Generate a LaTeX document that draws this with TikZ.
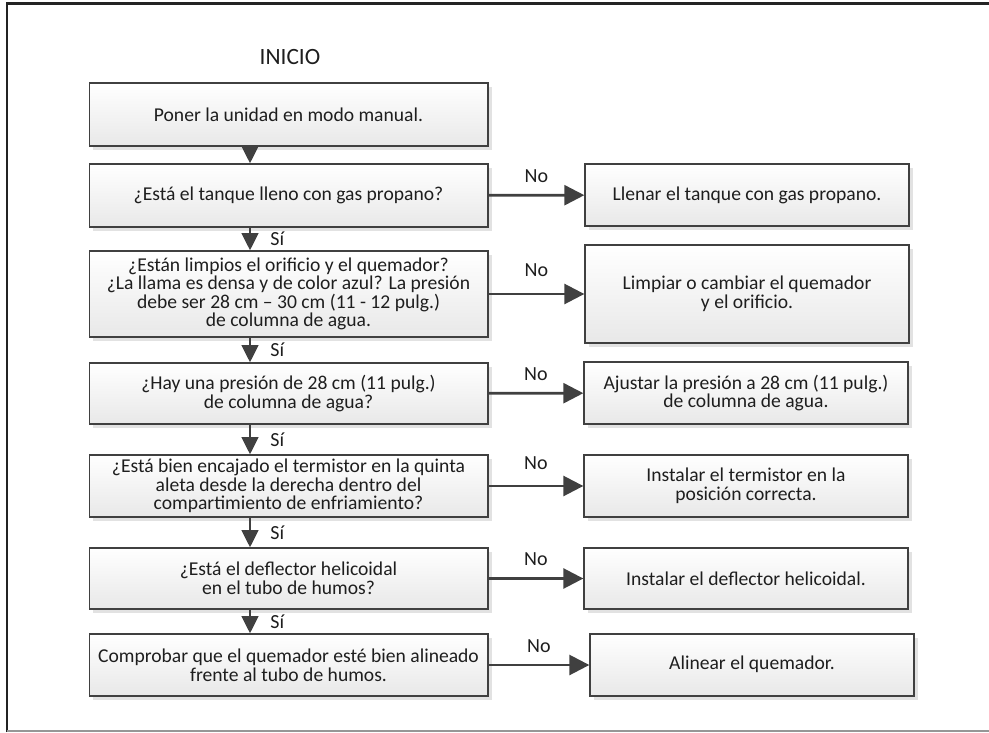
\documentclass[tikz,border=0pt]{standalone}
\usepackage{fontspec}
\setmainfont{Carlito}
\usepackage{tikz}
\usetikzlibrary{arrows.meta,positioning,shadows}
\definecolor{flowline}{RGB}{64,64,64}
\definecolor{flowtext}{RGB}{30,30,30}
\definecolor{framedark}{RGB}{35,35,35}
\definecolor{framegray}{RGB}{150,150,150}
\definecolor{shadowgray}{RGB}{226,226,226}

\begin{document}
\begin{tikzpicture}[
  x=0.75pt, y=-0.75pt,
  every node/.style={font=\fontsize{14.7}{13.9}\selectfont, text=flowtext},
  box/.style={draw=flowline, line width=1pt, top color=white, bottom color=black!9,
    drop shadow={shadow xshift=3pt, shadow yshift=-3pt, fill=shadowgray, opacity=1},
    minimum width=299pt, minimum height=46.5pt, inner sep=0pt, align=center},
  sidebox/.style={box, minimum width=243pt},
  arrow/.style={-{Triangle[length=15pt, width=15pt]}, line width=2pt, draw=flowline},
  downarrow/.style={-{Triangle[length=13pt, width=12.5pt]}, line width=2pt, draw=flowline},
  answer/.style={font=\fontsize{15}{16}\selectfont}
]
  \useasboundingbox (0,0) rectangle (989,732);
  \draw[line width=1.8pt, framedark] (7,732) -- (7,3.5) -- (989,3.5);
  \draw[line width=1pt, framegray] (7,731) -- (989,731);

  \node[font=\fontsize{17.5}{20}\selectfont] (inicio) at (290,57) {INICIO};

  % main column
  \node[box, minimum height=47.25pt] (manual) at (288.5,114.5) {Poner la unidad en modo manual.};
  \node[box, minimum height=47.25pt] (tanque) at (288.5,195.5) {¿Está el tanque lleno con gas propano?};
  \node[box, minimum height=64.5pt] (limpio) at (288.5,294) {¿Están limpios el orificio y el quemador?\\¿La llama es densa y de color azul? La presión\\debe ser 28 cm – 30 cm (11 - 12 pulg.)\\de columna de agua.};
  \node[box, minimum height=45.75pt] (presion) at (288.5,393.5) {¿Hay una presión de 28 cm (11 pulg.)\\de columna de agua?};
  \node[box] (termistor) at (288.5,486) {¿Está bien encajado el termistor en la quinta\\aleta desde la derecha dentro del\\compartimiento de enfriamiento?};
  \node[box, minimum height=45.75pt] (deflector) at (288.5,578.5) {¿Está el deflector helicoidal\\en el tubo de humos?};
  \node[box] (alineado) at (288.5,665) {Comprobar que el quemador esté bien alineado\\frente al tubo de humos.};

  % actions
  \node[sidebox] (llenar) at (747,195) {Llenar el tanque con gas propano.};
  \node[sidebox, minimum height=73.5pt] (cambiar) at (747,294) {Limpiar o cambiar el quemador\\y el orificio.};
  \node[sidebox] (ajustar) at (746,393) {Ajustar la presión a 28 cm (11 pulg.)\\de columna de agua.};
  \node[sidebox] (instalar) at (746,486) {Instalar el termistor en la\\posición correcta.};
  \node[sidebox, minimum height=45.75pt] (helicoidal) at (746,578.5) {Instalar el deflector helicoidal.};
  \node[sidebox] (alinear) at (752,665) {\raisebox{4pt}{Alinear el quemador.}};

  \coordinate (spine) at (250,0);

  \draw[downarrow] (manual.south -| spine) -- (tanque.north -| spine);
  \draw[downarrow] (tanque.south -| spine) -- node[answer, right=11pt]{Sí} (limpio.north -| spine);
  \draw[downarrow] (limpio.south -| spine) -- node[answer, right=11pt]{Sí} (presion.north -| spine);
  \draw[downarrow] (presion.south -| spine) -- node[answer, right=11pt]{Sí} (termistor.north -| spine);
  \draw[downarrow] (termistor.south -| spine) -- node[answer, right=11pt]{Sí} (deflector.north -| spine);
  \draw[downarrow] (deflector.south -| spine) -- node[answer, right=11pt]{Sí} (alineado.north -| spine);

  \draw[arrow] (tanque) -- node[answer, above=5pt]{No} (llenar);
  \draw[arrow] (limpio) -- node[answer, above=9pt]{No} (cambiar);
  \draw[arrow] (presion) -- node[answer, above=5pt]{No} (ajustar);
  \draw[arrow] (termistor) -- node[answer, above=8pt]{No} (instalar);
  \draw[arrow] (deflector) -- node[answer, above=5pt]{No} (helicoidal);
  \draw[arrow] (alineado) -- node[answer, above=5pt]{No} (alinear);
\end{tikzpicture}
\end{document}
